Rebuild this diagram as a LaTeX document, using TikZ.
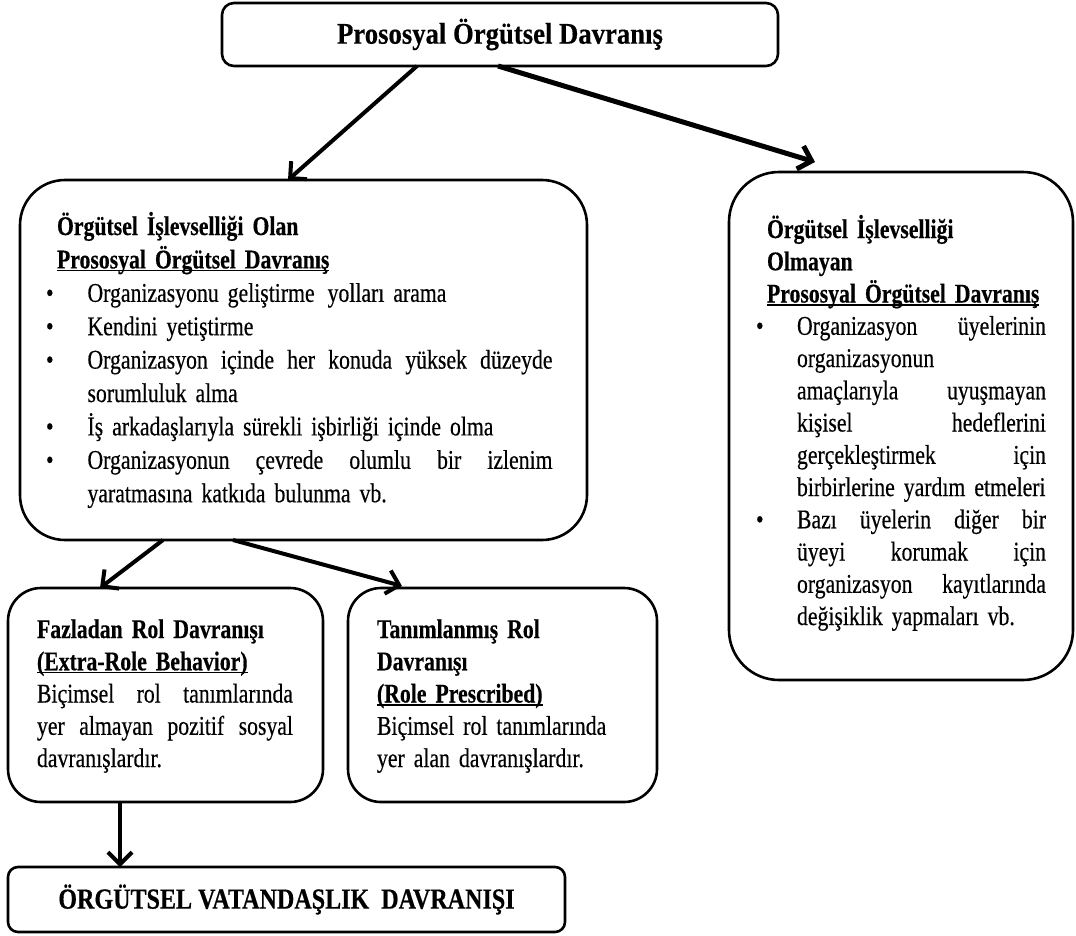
\documentclass[tikz,border=0pt]{standalone}
\usepackage{fontspec}
\setmainfont{Liberation Serif}
\newfontfamily\bodyfont[FakeStretch=0.805,FakeBold=0.4]{Liberation Serif}
\newfontfamily\topfont[FakeStretch=0.89,FakeBold=0.4]{Liberation Serif}
\usetikzlibrary{arrows.meta,calc}
\newcommand\myul[1]{\leavevmode\setbox0=\hbox{#1}\rlap{\rule[-3pt]{\wd0}{1.3pt}}\box0}
\newcommand\Jl[2]{\leavevmode\hbox to #1{\spaceskip=0.25em plus 1fil\relax #2}}
\newcommand\Bl[1]{\makebox[#1][l]{•}}
\tikzset{
  x=1pt,y=-1pt,
  box/.style={draw=black,line width=2.6pt,fill=white,inner sep=0pt,outer sep=0pt,anchor=north west},
  txt/.style={inner sep=0pt,outer sep=0pt,anchor=base west,align=left,
    font=\bodyfont\fontsize{27}{32.25}\selectfont},
  arr/.style={line width=4pt,-{Straight Barb[length=12pt,width=24pt]}},
}
\begin{document}
\begin{tikzpicture}
\useasboundingbox (0,0) rectangle (1076,935);
% boxes
\node[box,rounded corners=12pt,minimum width=556,minimum height=63] (top) at (222,3) {};
\node[font=\topfont\bfseries\fontsize{30}{32}\selectfont,inner sep=0pt] (toptxt) at (top.center) {Prososyal Örgütsel Davranış};
\node[box,rounded corners=45pt,minimum width=567,minimum height=360] (lb) at (20,180) {};
\node[box,rounded corners=50pt,minimum width=344,minimum height=508] (rb) at (729,172) {};
\node[box,rounded corners=33pt,minimum width=315,minimum height=214] (fb) at (8,588) {};
\node[box,rounded corners=33pt,minimum width=309,minimum height=214] (tb) at (348,588) {};
\node[box,rounded corners=10pt,minimum width=557,minimum height=65] (bb) at (8,867) {};
\node[font=\bodyfont\bfseries\fontsize{29}{32}\selectfont,inner sep=0pt] (bbtxt) at (bb.center) {\addfontfeature{FakeStretch=0.83}ÖRGÜTSEL VATANDAŞLIK\ \ DAVRANIŞI};
% left box text
\node[txt,font=\bodyfont\fontsize{27}{33.4}\selectfont,text width=506.5] (lbtxt) at (46,235) {%
\hspace*{11pt}\textbf{Örgütsel İşlevselliği Olan}\\
\hspace*{11pt}\myul{\textbf{Prososyal Örgütsel Davranış}}\\
\Bl{41.5pt}Organizasyonu geliştirme\hspace{4pt} yolları arama\\
\Bl{41.5pt}Kendini yetiştirme\\
\Bl{41.5pt}\Jl{465pt}{Organizasyon içinde her konuda yüksek düzeyde}\\
\hspace*{41.5pt}sorumluluk alma\\
\Bl{41.5pt}İş arkadaşlarıyla sürekli işbirliği içinde olma\\
\Bl{41.5pt}\Jl{465pt}{Organizasyonun çevrede olumlu bir izlenim}\\
\hspace*{41.5pt}yaratmasına katkıda bulunma vb.};
% right box text
\node[txt,text width=290] (rbtxt) at (756,238) {%
\hspace*{11pt}\textbf{Örgütsel İşlevselliği}\\
\hspace*{11pt}\textbf{Olmayan}\\
\hspace*{11pt}\myul{\textbf{Prososyal Örgütsel Davranış}}\\
\Bl{41pt}\Jl{249pt}{Organizasyon üyelerinin}\\
\hspace*{41pt}organizasyonun\\
\hspace*{41pt}\Jl{249pt}{amaçlarıyla uyuşmayan}\\
\hspace*{41pt}\Jl{249pt}{kişisel hedeflerini}\\
\hspace*{41pt}\Jl{249pt}{gerçekleştirmek için}\\
\hspace*{41pt}birbirlerine yardım etmeleri\\
\Bl{41pt}\Jl{249pt}{Bazı üyelerin diğer bir}\\
\hspace*{41pt}\Jl{249pt}{üyeyi korumak için}\\
\hspace*{41pt}\Jl{249pt}{organizasyon kayıtlarında}\\
\hspace*{41pt}değişiklik yapmaları vb.};
% fazladan text
\node[txt,text width=256] (fbtxt) at (37,638) {%
\textbf{Fazladan Rol Davranışı}\\
\myul{\textbf{(Extra-Role Behavior)}}\\
\Jl{256pt}{Biçimsel rol tanımlarında}\\
\Jl{256pt}{yer almayan pozitif sosyal}\\
davranışlardır.};
% tanimlanmis text
\node[txt,text width=260] (tbtxt) at (377,638) {%
\textbf{Tanımlanmış Rol}\\
\textbf{Davranışı}\\
\myul{\textbf{(Role Prescribed)}}\\
Biçimsel rol tanımlarında\\
yer alan davranışlardır.};
% arrows
\draw[arr] ([xshift=-83pt]top.south) -- ([xshift=-15.5pt]lb.north);
\draw[arr,line width=5pt] ([xshift=-2pt]top.south) -- ([xshift=-86pt,yshift=10pt]rb.north);
\draw[arr] ([xshift=-140.5pt]lb.south) -- ([xshift=-65.5pt]fb.north);
\draw[arr] ([xshift=-70.5pt]lb.south) -- ([xshift=-100.5pt,yshift=2pt]tb.north);
\draw[arr] ([xshift=-45.5pt]fb.south) -- ([xshift=-45.5pt]fb.south |- bb.north);
\end{tikzpicture}
\end{document}
